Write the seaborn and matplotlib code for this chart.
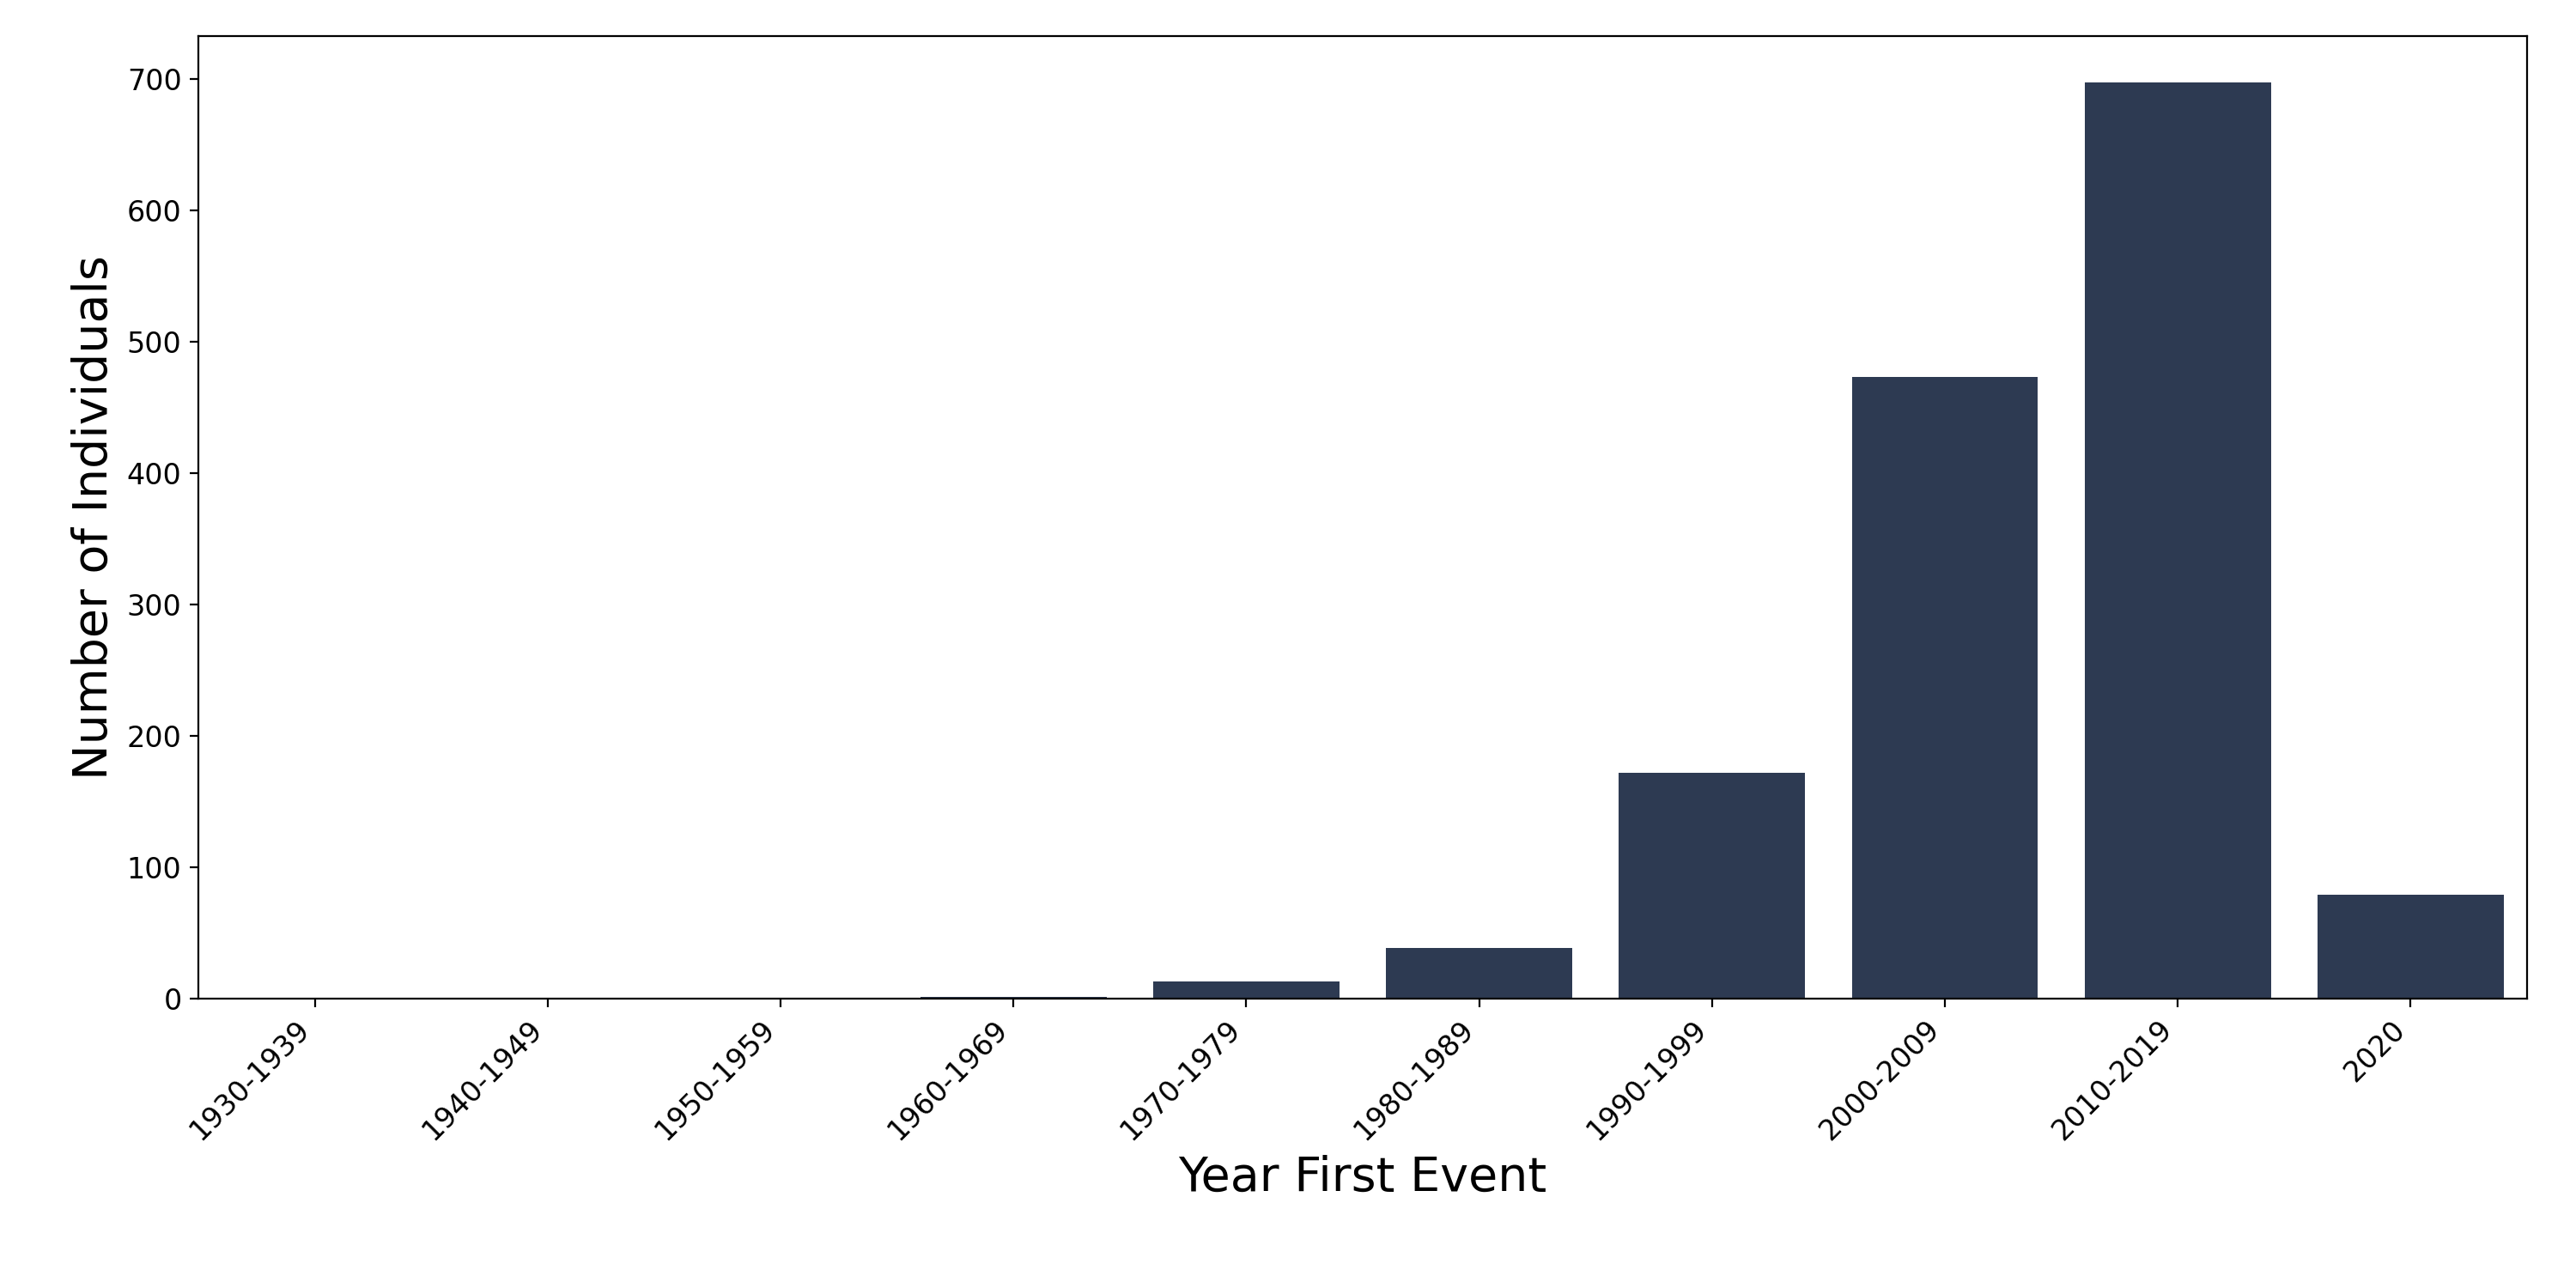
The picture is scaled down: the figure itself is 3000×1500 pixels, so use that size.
import matplotlib
matplotlib.use("Agg")
import matplotlib.pyplot as plt
import seaborn as sns
import pandas as pd

decades = ["1930-1939","1940-1949","1950-1959","1960-1969","1970-1979",
           "1980-1989","1990-1999","2000-2009","2010-2019","2020"]
counts = [0, 0, 0, 1, 13, 38, 172, 473, 698, 79]

df = pd.DataFrame({"decade": decades, "count": counts})
fig, ax = plt.subplots(figsize=(15, 7.5), dpi=200)
sns.barplot(data=df, x="decade", y="count", color="#2d3a52", saturation=1, width=0.8, ax=ax)
ax.set_xlabel("Year First Event", fontsize=20)
ax.set_ylabel("Number of Individuals", fontsize=20)
ax.tick_params(labelsize=12)
plt.setp(ax.get_xticklabels(), rotation=45, ha="right")
ax.set_ylim(0, 733)
ax.set_xlim(-0.5, 9.5)
fig.subplots_adjust(left=0.077, right=0.981, top=0.972, bottom=0.225)
fig.savefig("out.png")
